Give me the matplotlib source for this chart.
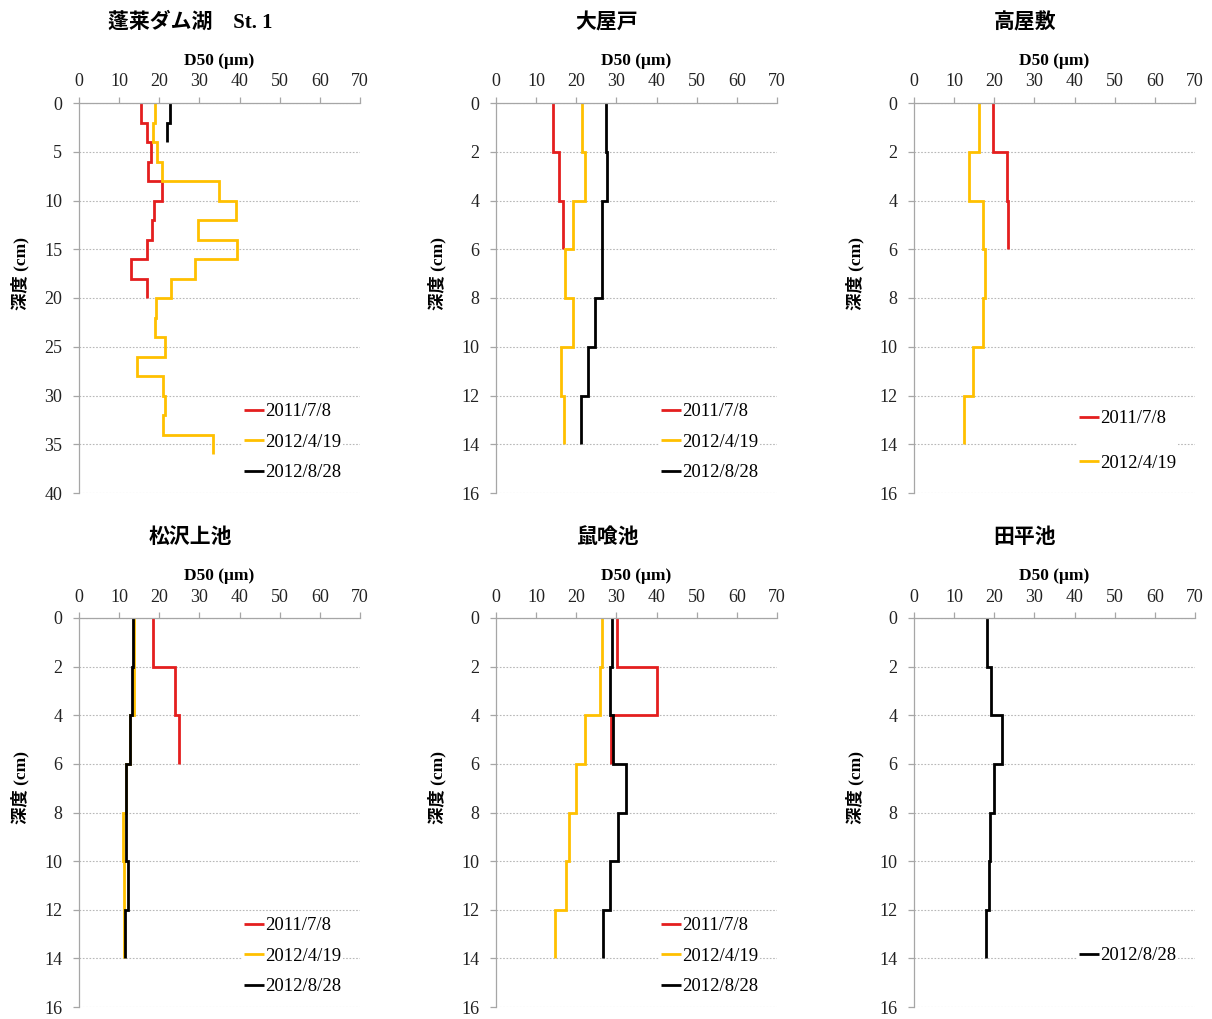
import numpy as np
import matplotlib
matplotlib.use("Agg")
import matplotlib.pyplot as plt

FONTS = ['Liberation Serif', 'Noto Sans CJK JP', 'DejaVu Sans']
plt.rcParams['font.family'] = FONTS

# ---------------- data ----------------
dates = ['2011/7/8', '2012/4/19', '2012/8/28']
colors = {'2011/7/8': '#E41E1E', '2012/4/19': '#FFC000', '2012/8/28': '#000000'}

titles = ['蓬莱ダム湖\u3000St. 1', '大屋戸', '高屋敷', '松沢上池', '鼠喰池', '田平池']

# layer tops at 0,2,4,... ; each value applies to a 2 cm layer
layer_cm = 2

# 蓬莱ダム湖 St.1
hourai_2011 = [15.5, 17.0, 18.0, 17.3, 20.8, 18.6, 18.2, 17.0, 13.0, 17.0]
hourai_2012a = [18.9, 18.5, 19.5, 20.7, 34.8, 39.1, 29.7, 39.4, 28.8, 23.0,
                19.2, 19.0, 21.4, 14.5, 20.9, 21.5, 20.9, 33.3]
hourai_2012b = [22.6, 22.0]

# 大屋戸
ooyado_2011 = [14.3, 15.8, 16.8]
ooyado_2012a = [21.3, 22.1, 19.1, 17.2, 19.3, 16.3, 16.9]
ooyado_2012b = [27.5, 27.7, 26.5, 26.5, 24.6, 23.0, 21.1]

# 高屋敷
takayashiki_2011 = [19.8, 23.1, 23.5]
takayashiki_2012a = [16.2, 13.8, 17.2, 17.7, 17.1, 14.7, 12.4]

# 松沢上池
matsuzawa_2011 = [18.5, 24.0, 24.8]
matsuzawa_2012a = [13.6, 13.6, 12.8, 11.8, 11.0, 11.1, 11.1]
matsuzawa_2012b = [13.4, 13.3, 12.7, 11.7, 11.7, 12.1, 11.4]

# 鼠喰池
nezumi_2011 = [30.2, 40.0, 28.6]
nezumi_2012a = [26.5, 25.9, 22.1, 19.9, 18.2, 17.4, 14.7]
nezumi_2012b = [28.9, 28.4, 29.1, 32.3, 30.5, 28.3, 26.6]

# 田平池
tabira_2012b = [18.1, 19.1, 22.0, 20.0, 18.9, 18.8, 17.9]

panels = [
    {'2011/7/8': hourai_2011, '2012/4/19': hourai_2012a, '2012/8/28': hourai_2012b},
    {'2011/7/8': ooyado_2011, '2012/4/19': ooyado_2012a, '2012/8/28': ooyado_2012b},
    {'2011/7/8': takayashiki_2011, '2012/4/19': takayashiki_2012a},
    {'2011/7/8': matsuzawa_2011, '2012/4/19': matsuzawa_2012a, '2012/8/28': matsuzawa_2012b},
    {'2011/7/8': nezumi_2011, '2012/4/19': nezumi_2012a, '2012/8/28': nezumi_2012b},
    {'2012/8/28': tabira_2012b},
]
ymax = [40, 16, 16, 16, 16, 16]
ystep = [5, 2, 2, 2, 2, 2]

# ---------------- layout ----------------
W, H = 1212, 1019
fig = plt.figure(figsize=(W / 100, H / 100), dpi=100)

col_x = [79, 496, 914]
ax_w = 281
row_y = [(103, 493), (618, 1007)]

legend_spec = [
    dict(y=0.025, spacing=0.72),
    dict(y=0.025, spacing=0.72),
    dict(y=0.05, spacing=1.45),
    dict(y=0.025, spacing=0.72),
    dict(y=0.025, spacing=0.72),
    dict(y=0.105, spacing=0.72),
]

grid_c = '#b8b8b8'
spine_c = '#a6a6a6'

for i, data in enumerate(panels):
    r, c = divmod(i, 3)
    x0 = col_x[c]
    top, bot = row_y[r]
    ax = fig.add_axes([x0 / W, 1 - bot / H, ax_w / W, (bot - top) / H])

    for d in dates:
        if d not in data:
            continue
        vals = np.asarray(data[d], dtype=float)
        n = len(vals)
        tops = np.arange(n) * layer_cm
        xs = np.repeat(vals, 2)
        ys = np.column_stack([tops, tops + layer_cm]).ravel()
        ax.plot(xs, ys, color=colors[d], lw=2.0, label=d,
                solid_joinstyle='miter', solid_capstyle='butt')

    ax.set_xlim(0, 70)
    ax.set_ylim(ymax[i], 0)
    ax.set_xticks(np.arange(0, 71, 10))
    ax.set_yticks(np.arange(0, ymax[i] + 0.1, ystep[i]))
    ax.xaxis.tick_top()
    ax.xaxis.set_label_position('top')
    for s in ['right', 'bottom']:
        ax.spines[s].set_visible(False)
    for s in ['left', 'top']:
        ax.spines[s].set_color(spine_c)
        ax.spines[s].set_linewidth(0.9)
    ax.tick_params(axis='both', which='major', length=4, width=0.9, color=spine_c,
                   labelsize=13, labelcolor='#222222', direction='out')
    ax.tick_params(axis='x', pad=5)
    ax.tick_params(axis='y', pad=8)
    ax.yaxis.grid(True, color=grid_c, linestyle=(0, (1.5, 1.5)), linewidth=0.8)
    ax.set_axisbelow(True)

    ax.set_xlabel('D50 (μm)', fontsize=12.5, fontweight='bold', labelpad=6)
    ax.set_ylabel('深度 (cm)', fontsize=12.5, fontweight='bold', labelpad=10)
    ax.yaxis.set_label_coords(-50 / ax_w, 0.5 + 25 / (bot - top))

    ax.text(0.395, 1 + 80 / (bot - top), titles[i], transform=ax.transAxes,
            ha='center', va='center', fontsize=15, fontweight='bold')

    ls = legend_spec[i]
    leg = ax.legend(loc='lower right', bbox_to_anchor=(0.94, ls['y']),
                    frameon=True, fancybox=False, framealpha=1.0,
                    edgecolor='white', facecolor='white',
                    fontsize=13.5, handlelength=1.1, handletextpad=0.05,
                    labelspacing=ls['spacing'], borderpad=0.1, borderaxespad=0.0)
    leg.get_frame().set_linewidth(0)

fig.savefig('out.png', dpi=100, facecolor='white')
